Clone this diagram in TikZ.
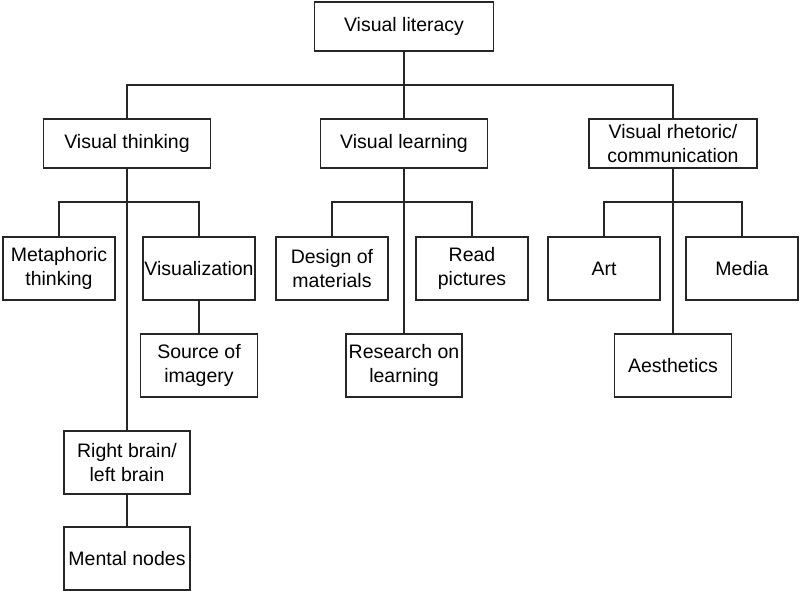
\documentclass[tikz,border=0pt]{standalone}
\usepackage{fontspec}
\setmainfont{Liberation Sans}
\begin{document}
\begin{tikzpicture}[x=1pt,y=-1pt,
  box/.style={draw=black!85,line width=1.1pt,inner sep=0pt,align=center,
    font=\fontsize{19.5}{23.5}\selectfont,text=black},
  wide/.style={box,minimum height=49pt},
  tall/.style={box,minimum height=63pt},
  link/.style={draw=black!85,line width=1.1pt}]
\useasboundingbox (0,0) rectangle (800,591);
\node[wide,minimum width=179pt] (lit) at (404,26.5) {Visual literacy};
\node[wide,minimum width=167pt] (think) at (127,143.5) {Visual thinking};
\node[wide,minimum width=167pt] (learn) at (404,143.5) {Visual learning};
\node[wide,minimum width=168pt] (rhet) at (673,143.5) {Visual rhetoric/\\communication};
\node[tall,minimum width=112pt] (meta) at (59,268.5) {Metaphoric\\thinking};
\node[tall,minimum width=112pt] (visz) at (199,268.5) {Visualization};
\node[tall,minimum width=117pt] (source) at (199,365.5) {Source of\\imagery};
\node[tall,minimum width=112pt] (design) at (332,268.5) {Design of\\materials};
\node[tall,minimum width=112pt] (read) at (472,268.5) {Read\\pictures};
\node[tall,minimum width=116pt] (research) at (404,365.5) {Research on\\learning};
\node[tall,minimum width=112pt] (art) at (604,268.5) {Art};
\node[tall,minimum width=112pt] (media) at (742,268.5) {Media};
\node[tall,minimum width=117pt] (aesth) at (673,365.5) {Aesthetics};
\node[tall,minimum width=126pt] (rb) at (127,462.5) {Right brain/\\left brain};
\node[tall,minimum width=126pt] (mental) at (127,558.5) {Mental nodes};
\coordinate (j1) at (404,85);
\coordinate (j2) at (127,202);
\coordinate (j3) at (404,202);
\coordinate (j4) at (673,202);
\draw[link] (lit.south) -- (j1);
\draw[link] (think.north) |- (j1) -| (rhet.north);
\draw[link] (j1) -- (learn.north);
\draw[link] (meta.north) |- (j2) -| (visz.north);
\draw[link] (think.south) -- (rb.north);
\draw[link] (rb.south) -- (mental.north);
\draw[link] (visz.south) -- (source.north);
\draw[link] (design.north) |- (j3) -| (read.north);
\draw[link] (learn.south) -- (research.north);
\draw[link] (art.north) |- (j4) -| (media.north);
\draw[link] (rhet.south) -- (aesth.north);
\end{tikzpicture}
\end{document}
